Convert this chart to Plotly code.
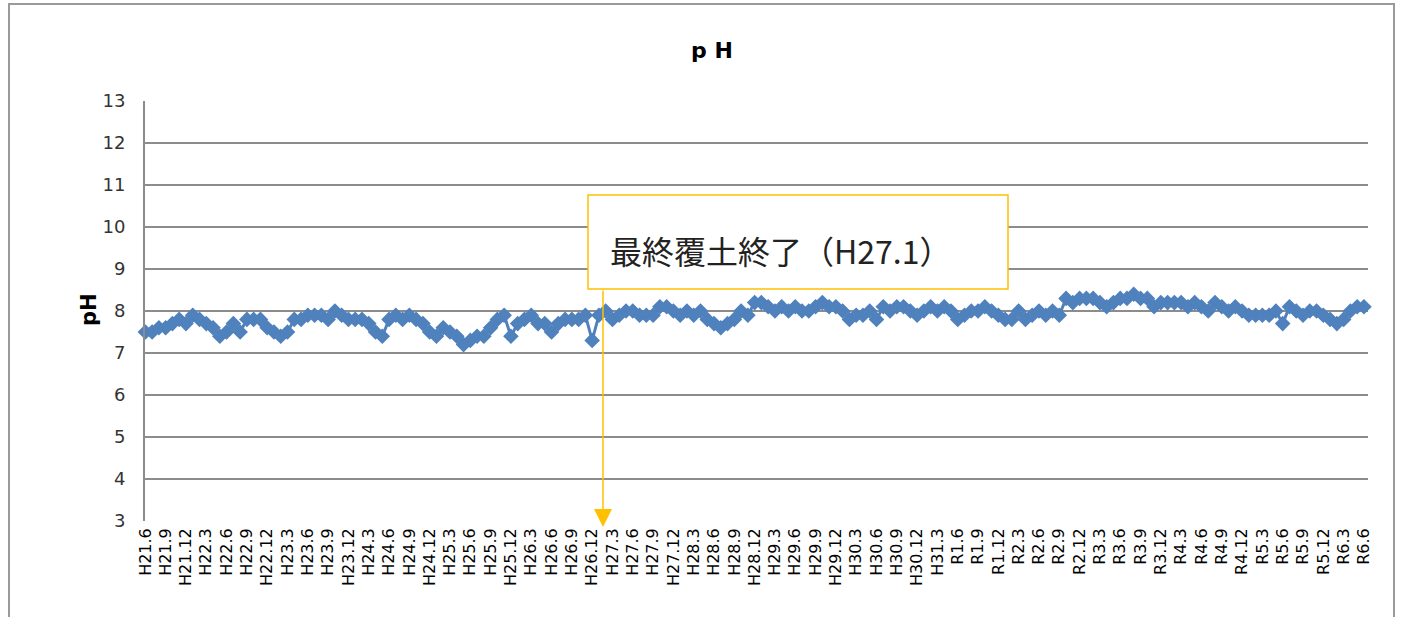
import plotly.graph_objects as go

ph_values = [
    7.5, 7.5, 7.6, 7.6, 7.7, 7.8, 7.7, 7.9, 7.8, 7.7,
    7.6, 7.4, 7.5, 7.7, 7.5, 7.8, 7.8, 7.8, 7.6, 7.5,
    7.4, 7.5, 7.8, 7.8, 7.9, 7.9, 7.9, 7.8, 8.0, 7.9,
    7.8, 7.8, 7.8, 7.7, 7.5, 7.4, 7.8, 7.9, 7.8, 7.9,
    7.8, 7.7, 7.5, 7.4, 7.6, 7.5, 7.4, 7.2, 7.3, 7.4,
    7.4, 7.6, 7.8, 7.9, 7.4, 7.7, 7.8, 7.9, 7.7, 7.7,
    7.5, 7.7, 7.8, 7.8, 7.8, 7.9, 7.3, 7.9, 8.0, 7.8,
    7.9, 8.0, 8.0, 7.9, 7.9, 7.9, 8.1, 8.1, 8.0, 7.9,
    8.0, 7.9, 8.0, 7.8, 7.7, 7.6, 7.7, 7.8, 8.0, 7.9,
    8.2, 8.2, 8.1, 8.0, 8.1, 8.0, 8.1, 8.0, 8.0, 8.1,
    8.2, 8.1, 8.1, 8.0, 7.8, 7.9, 7.9, 8.0, 7.8, 8.1,
    8.0, 8.1, 8.1, 8.0, 7.9, 8.0, 8.1, 8.0, 8.1, 8.0,
    7.8, 7.9, 8.0, 8.0, 8.1, 8.0, 7.9, 7.8, 7.8, 8.0,
    7.8, 7.9, 8.0, 7.9, 8.0, 7.9, 8.3, 8.2, 8.3, 8.3,
    8.3, 8.2, 8.1, 8.2, 8.3, 8.3, 8.4, 8.3, 8.3, 8.1,
    8.2, 8.2, 8.2, 8.2, 8.1, 8.2, 8.1, 8.0, 8.2, 8.1,
    8.0, 8.1, 8.0, 7.9, 7.9, 7.9, 7.9, 8.0, 7.7, 8.1,
    8.0, 7.9, 8.0, 8.0, 7.9, 7.8, 7.7, 7.8, 8.0, 8.1,
    8.1,
]

tick_labels = [
    "H21.6", "H21.9", "H21.12", "H22.3", "H22.6", "H22.9", "H22.12",
    "H23.3", "H23.6", "H23.9", "H23.12", "H24.3", "H24.6", "H24.9", "H24.12",
    "H25.3", "H25.6", "H25.9", "H25.12", "H26.3", "H26.6", "H26.9", "H26.12",
    "H27.3", "H27.6", "H27.9", "H27.12", "H28.3", "H28.6", "H28.9", "H28.12",
    "H29.3", "H29.6", "H29.9", "H29.12", "H30.3", "H30.6", "H30.9", "H30.12",
    "H31.3", "R1.6", "R1.9", "R1.12", "R2.3", "R2.6", "R2.9", "R2.12",
    "R3.3", "R3.6", "R3.9", "R3.12", "R4.3", "R4.6", "R4.9", "R4.12",
    "R5.3", "R5.6", "R5.9", "R5.12", "R6.3", "R6.6",
]

month_index = list(range(len(ph_values)))
tick_positions = month_index[::3]

annotation_text = "最終覆土終了（H27.1）"
annotation_month = 67.6  # H27.1

BLUE = "#4F81BD"
GRID = "#8C8C8C"
GOLD = "#FFC000"

X_MAX = 180.6

fig = go.Figure()
fig.add_trace(go.Scatter(
    x=month_index, y=ph_values, mode="lines+markers",
    line=dict(color=BLUE, width=3),
    marker=dict(symbol="diamond", size=12, color=BLUE),
    cliponaxis=False, showlegend=False,
))

L, R, T, B = 145, 34, 101, 96
W, H = 1402, 617
pw = W - L - R
ph = H - T - B
px_per_x = pw / (X_MAX + 0.05)


def xd(px):
    return (px - L) / px_per_x - 0.05


def yd(py):
    return 13 - (py - T) / 42


fig.update_layout(
    width=W, height=H,
    margin=dict(l=L, r=R, t=T, b=B),
    paper_bgcolor="white", plot_bgcolor="white",
    font=dict(family="DejaVu Sans", color="#222"),
    title=dict(text="p H", x=712 / W, y=1 - 50 / H, xref="container", yref="container",
               xanchor="center", yanchor="middle",
               font=dict(size=22, family="DejaVu Sans", color="black", weight="bold")),
    xaxis=dict(range=[-0.05, X_MAX], tickvals=tick_positions, ticktext=tick_labels,
               tickangle=-90, tickfont=dict(size=16, color="black"),
               showgrid=False, zeroline=False, showline=False, ticks="",
               ticklabelstandoff=3),
    yaxis=dict(range=[3, 13], dtick=1, tickfont=dict(size=18, color="#333"),
               showgrid=True, gridcolor=GRID, gridwidth=1.8, zeroline=False,
               showline=True, linecolor=GRID, linewidth=1.8, ticks="", ticklen=0,
               ticklabelstandoff=14),
)

# outer chart border
fig.add_shape(type="rect", xref="paper", yref="paper",
              x0=(9 - L) / pw, x1=(1394 - L) / pw,
              y0=(H - B - 640) / ph, y1=(H - B - 4) / ph,
              line=dict(color="#9A9A9A", width=2), fillcolor="rgba(0,0,0,0)", layer="below")

# y axis title
fig.add_annotation(text="<b>pH</b>", xref="paper", yref="paper",
                   x=(75 - L) / pw, y=(H - B - 310) / ph, showarrow=False,
                   textangle=-90, font=dict(size=21, color="black"))

# callout box
fig.add_shape(type="rect", xref="x", yref="y",
              x0=xd(588), x1=xd(1008), y0=yd(289), y1=yd(195),
              line=dict(color=GOLD, width=1.5), fillcolor="white", layer="above")
fig.add_annotation(text=annotation_text, xref="x", yref="y",
                   x=xd(608), y=yd(250),
                   xanchor="left", yanchor="middle", showarrow=False,
                   font=dict(size=32, family="Noto Sans CJK JP", color="#222"))
# arrow
fig.add_annotation(x=annotation_month, y=2.86, ax=annotation_month, ay=yd(289),
                   xref="x", yref="y", axref="x", ayref="y", text="",
                   showarrow=True, arrowhead=2, arrowsize=2.4, arrowwidth=1.5,
                   arrowcolor=GOLD, standoff=0)

fig.write_html("out.html", config={"displayModeBar": False},
               post_script="document.body.style.margin='0';")
